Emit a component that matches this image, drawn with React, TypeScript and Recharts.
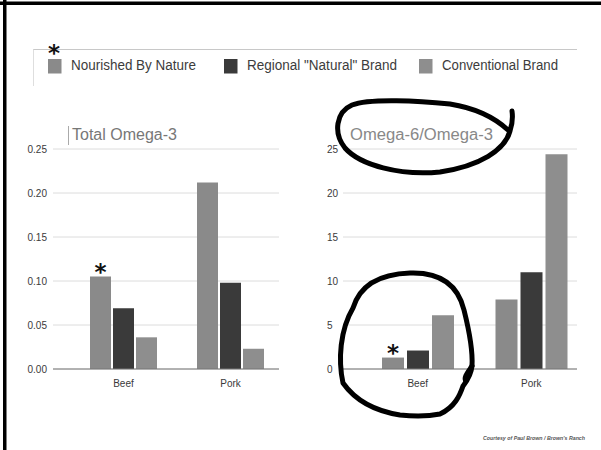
import { Bar, BarChart, CartesianGrid, LabelList, XAxis, YAxis } from "recharts";

const categories = ["Beef", "Pork"];
const seriesNames = ["Nourished By Nature", 'Regional "Natural" Brand', "Conventional Brand"];

const omega3Nourished = [0.105, 0.212];
const omega3Regional = [0.069, 0.098];
const omega3Conventional = [0.036, 0.023];
const omega3Ticks = [0, 0.05, 0.1, 0.15, 0.2, 0.25];

const ratioNourished = [1.3, 7.9];
const ratioRegional = [2.1, 11.0];
const ratioConventional = [6.1, 24.4];
const ratioTicks = [0, 5, 10, 15, 20, 25];

// categories marked with an asterisk on the Nourished By Nature bar
const starred = ["Beef"];

const seriesKeys = ["nourished", "regional", "conventional"];
const colors = ["#8a8a8a", "#3a3a3a", "#8e8e8e"];

const omega3Data = categories.map((name, i) => ({
  name,
  nourished: omega3Nourished[i],
  regional: omega3Regional[i],
  conventional: omega3Conventional[i],
}));

const ratioData = categories.map((name, i) => ({
  name,
  nourished: ratioNourished[i],
  regional: ratioRegional[i],
  conventional: ratioConventional[i],
}));

// legend placement: square x, text x, text length
const legendLayout = [
  { sq: 48, tx: 71, len: 125 },
  { sq: 224, tx: 247, len: 150 },
  { sq: 419, tx: 442, len: 116 },
];

function Star({ x, y }: { x: number; y: number }) {
  return (
    <text
      x={x}
      y={y}
      textAnchor="middle"
      fontFamily="DejaVu Sans"
      fontWeight="bold"
      fontSize={23}
      fill="#111"
    >
      *
    </text>
  );
}

function StarLabel(props: any) {
  const { x, y, width, value } = props;
  if (!starred.includes(value)) return null;
  return <Star x={Number(x) + Number(width) / 2} y={Number(y) + 3} />;
}

function LeftTick({ y, payload }: any) {
  return (
    <text x={47} y={y} dy={3.5} textAnchor="end" fontSize={10} fill="#3a3a3a">
      {Number(payload.value).toFixed(2)}
    </text>
  );
}

function RightTick({ y, payload }: any) {
  return (
    <text x={27} y={y} dy={3.5} textAnchor="start" fontSize={10} fill="#3a3a3a">
      {payload.value}
    </text>
  );
}

const xTick = { fontSize: 10, fill: "#3a3a3a" };

export default function App() {
  return (
    <div
      style={{
        position: "absolute",
        left: 0,
        top: 0,
        width: 601,
        height: 450,
        background: "#fff",
        fontFamily: "'Liberation Sans', Arial, sans-serif",
      }}
    >
      <div style={{ position: "absolute", left: 0, top: 120 }}>
        <BarChart
          width={300}
          height={280}
          data={omega3Data}
          margin={{ top: 29, right: 21, bottom: 0, left: 8 }}
          barGap={2}
        >
          <CartesianGrid vertical={false} stroke="#dcdcdc" />
          <XAxis
            dataKey="name"
            tickLine={false}
            axisLine={{ stroke: "#777" }}
            tick={xTick}
            tickMargin={5}
            height={31}
            padding={{ left: 17, right: -5 }}
          />
          <YAxis
            width={45}
            domain={[0, 0.25]}
            ticks={omega3Ticks}
            axisLine={false}
            tickLine={false}
            tick={<LeftTick />}
          />
          {seriesKeys.map((k, i) => (
            <Bar key={k} dataKey={k} fill={colors[i]} barSize={21} isAnimationActive={false}>
              {i === 0 && <LabelList dataKey="name" content={StarLabel} />}
            </Bar>
          ))}
        </BarChart>
      </div>

      <div style={{ position: "absolute", left: 300, top: 120 }}>
        <BarChart
          width={301}
          height={280}
          data={ratioData}
          margin={{ top: 29, right: 24, bottom: 0, left: 8 }}
          barGap={3}
        >
          <CartesianGrid vertical={false} stroke="#dcdcdc" />
          <XAxis
            dataKey="name"
            tickLine={false}
            axisLine={{ stroke: "#777" }}
            tick={xTick}
            tickMargin={5}
            height={31}
            padding={{ left: 18, right: -11 }}
          />
          <YAxis
            width={35}
            domain={[0, 25]}
            ticks={ratioTicks}
            axisLine={false}
            tickLine={false}
            tick={<RightTick />}
          />
          {seriesKeys.map((k, i) => (
            <Bar key={k} dataKey={k} fill={colors[i]} barSize={22} isAnimationActive={false}>
              {i === 0 && <LabelList dataKey="name" content={StarLabel} />}
            </Bar>
          ))}
        </BarChart>
      </div>

      <svg
        width={601}
        height={450}
        style={{ position: "absolute", left: 0, top: 0, pointerEvents: "none" }}
      >
        {/* slide frame */}
        <rect x={0} y={1.5} width={601} height={3.5} fill="#000" />
        <rect x={3} y={0} width={3.5} height={450} fill="#000" />

        {/* legend */}
        <line x1={33} y1={49.5} x2={577} y2={49.5} stroke="#c8c8c8" />
        <line x1={33.5} y1={49.5} x2={33.5} y2={86} stroke="#dedede" />
        {seriesNames.map((name, i) => (
          <g key={name}>
            <rect x={legendLayout[i].sq} y={59} width={13.5} height={14.5} fill={colors[i]} />
            <text
              x={legendLayout[i].tx}
              y={70}
              fontSize={14}
              fill="#3c3c3c"
              textLength={legendLayout[i].len}
              lengthAdjust="spacingAndGlyphs"
            >
              {name}
            </text>
          </g>
        ))}
        <Star x={54} y={61} />

        {/* chart titles */}
        <line x1={68.5} y1={126} x2={68.5} y2={145} stroke="#aaa" />
        <text x={72} y={140} fontSize={16} fill="#777" textLength={105} lengthAdjust="spacingAndGlyphs">
          Total Omega-3
        </text>
        <text x={350} y={140} fontSize={16} fill="#888" textLength={143} lengthAdjust="spacingAndGlyphs">
          Omega-6/Omega-3
        </text>

        {/* hand-drawn annotations */}
        <g fill="none" stroke="#000" strokeWidth={5} strokeLinecap="round" strokeLinejoin="round">
          <path d="M 512 111 C 513 118, 512 125, 510 131 C 505 150, 480 166, 440 172 C 400 176, 360 165, 345 148 C 333 133, 336 112, 352 105 C 370 98, 420 101, 450 104 C 475 108, 495 118, 508 130" />
          <path d="M 353 308 C 360 285, 380 274, 410 273 C 440 272, 458 285, 464 310 C 469 330, 473 350, 472 366 C 471 376, 466 382, 463 386 C 460 395, 455 407, 440 414 C 425 417, 410 416, 400 415 C 375 411, 355 400, 343 383 C 338 360, 340 330, 353 308" />
          <path d="M 472 366 C 468 372, 463 378, 466 381" />
        </g>

        <text
          x={483}
          y={440}
          fontSize={6}
          fontStyle="italic"
          fontWeight="bold"
          fill="#555"
          textLength={102}
          lengthAdjust="spacingAndGlyphs"
        >
          Courtesy of Paul Brown / Brown's Ranch
        </text>
      </svg>
    </div>
  );
}
